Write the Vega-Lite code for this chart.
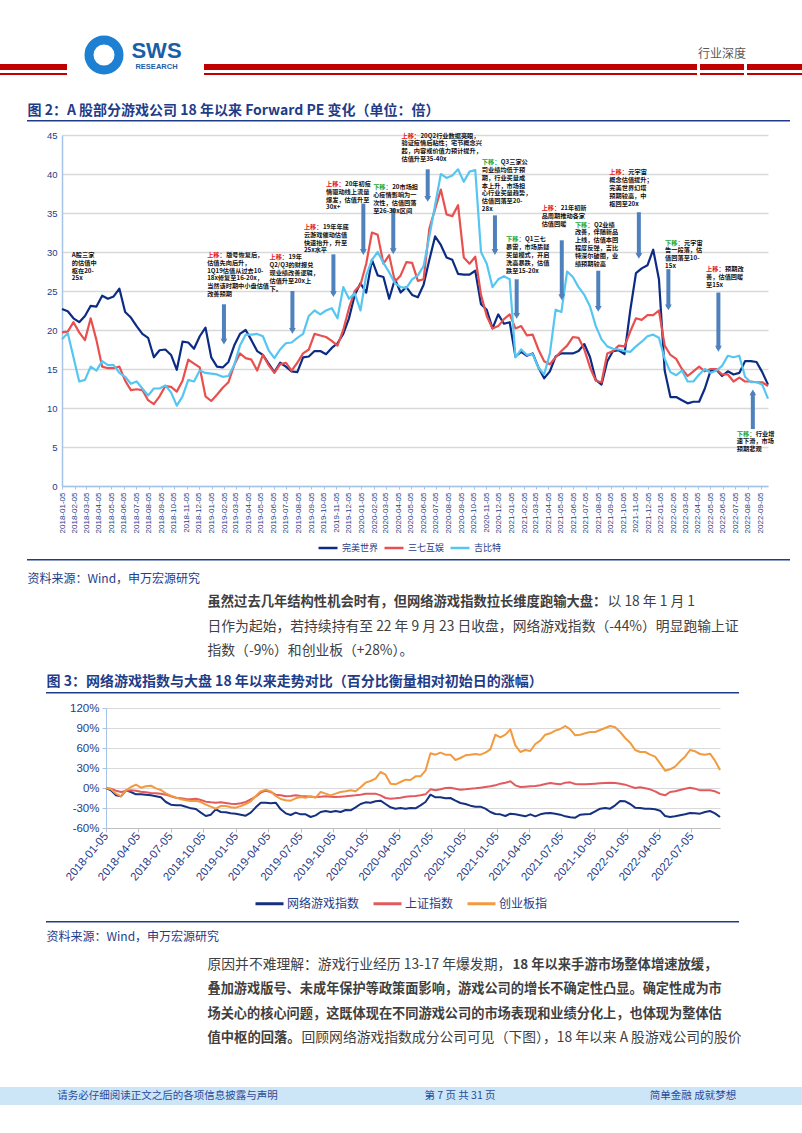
{
"$schema":"https://vega.github.io/schema/vega-lite/v6.json",
"background":"white",
"padding":0,
"spacing":0,
"config":{"view":{"stroke":null},"font":"Noto Sans CJK SC","concat":{"spacing":0}},
"resolve":{"scale":{"color":"independent","shape":"independent"},"legend":{"color":"independent","shape":"independent"}},
"datasets":{
"s":[
{"d":"2018-01-05","完美世界":22.7,"三七互娱":19.7,"吉比特":18.8,"网络游戏指数":0,"上证指数":0,"创业板指":0},
{"d":"2018-01-19","完美世界":22.4,"三七互娱":19.8,"吉比特":19.6,"网络游戏指数":-3.5,"上证指数":-1,"创业板指":-2},
{"d":"2018-02-02","完美世界":21.5,"三七互娱":21.0,"吉比特":16.5,"网络游戏指数":-11,"上证指数":-4,"创业板指":-8.5},
{"d":"2018-02-16","完美世界":21.0,"三七互娱":19.7,"吉比特":13.4,"网络游戏指数":-12.5,"上证指数":-6,"创业板指":-12.5},
{"d":"2018-03-02","完美世界":21.8,"三七互娱":18.7,"吉比特":13.6,"网络游戏指数":-3.5,"上证指数":-4.5,"创业板指":-3.5},
{"d":"2018-03-16","完美世界":23.1,"三七互娱":21.5,"吉比特":15.3,"网络游戏指数":-6,"上证指数":-3.5,"创业板指":1.5},
{"d":"2018-03-30","完美世界":23.0,"三七互娱":18.7,"吉比特":14.8,"网络游戏指数":-9.5,"上证指数":-4,"创业板指":5},
{"d":"2018-04-13","完美世界":24.4,"三七互娱":15.3,"吉比特":16.0,"网络游戏指数":-9.5,"上证指数":-5.5,"创业板指":0.5},
{"d":"2018-04-27","完美世界":24.0,"三七互娱":15.1,"吉比特":15.5,"网络游戏指数":-10,"上证指数":-6.5,"创业板指":2.5},
{"d":"2018-05-11","完美世界":24.3,"三七互娱":15.1,"吉比特":15.5,"网络游戏指数":-11,"上证指数":-7.5,"创业板指":3.5},
{"d":"2018-05-25","完美世界":25.3,"三七互娱":15.3,"吉比特":14.5,"网络游戏指数":-12.5,"上证指数":-8,"创业板指":-0.5},
{"d":"2018-06-08","完美世界":22.3,"三七互娱":13.5,"吉比特":14.0,"网络游戏指数":-14,"上证指数":-8.5,"创业板指":-3},
{"d":"2018-06-22","完美世界":21.6,"三七互娱":12.3,"吉比特":13.1,"网络游戏指数":-21,"上证指数":-10,"创业板指":-8},
{"d":"2018-07-06","完美世界":20.5,"三七互娱":12.4,"吉比特":13.4,"网络游戏指数":-25,"上证指数":-12.5,"创业板指":-11.5},
{"d":"2018-07-20","完美世界":19.5,"三七互娱":12.3,"吉比特":12.5,"网络游戏指数":-26,"上证指数":-14.5,"创业板指":-14},
{"d":"2018-08-03","完美世界":19.0,"三七互娱":11.0,"吉比特":11.6,"网络游戏指数":-26,"上证指数":-15.5,"创业板指":-17},
{"d":"2018-08-17","完美世界":16.5,"三七互娱":10.5,"吉比特":12.5,"网络游戏指数":-28,"上证指数":-16.5,"创业板指":-18.5},
{"d":"2018-08-31","完美世界":17.4,"三七互娱":11.5,"吉比特":12.5,"网络游戏指数":-30.5,"上证指数":-17,"创业板指":-19.5},
{"d":"2018-09-14","完美世界":17.5,"三七互娱":12.8,"吉比特":12.9,"网络游戏指数":-31.5,"上证指数":-16,"创业板指":-19},
{"d":"2018-09-28","完美世界":16.8,"三七互娱":12.7,"吉比特":12.0,"网络游戏指数":-37,"上证指数":-18,"创业板指":-21},
{"d":"2018-10-12","完美世界":14.9,"三七互娱":12.1,"吉比特":10.3,"网络游戏指数":-42,"上证指数":-20.5,"创业板指":-25},
{"d":"2018-10-26","完美世界":18.5,"三七互娱":13.5,"吉比特":11.5,"网络游戏指数":-40,"上证指数":-21.5,"创业板指":-28},
{"d":"2018-11-09","完美世界":18.4,"三七互娱":16.2,"吉比特":13.6,"网络游戏指数":-32,"上证指数":-22,"创业板指":-31},
{"d":"2018-11-23","完美世界":17.6,"三七互娱":15.7,"吉比特":13.4,"网络游戏指数":-36,"上证指数":-21.5,"创业板指":-27},
{"d":"2018-12-07","完美世界":19.2,"三七互娱":15.2,"吉比特":14.8,"网络游戏指数":-36.5,"上证指数":-22.5,"创业板指":-27},
{"d":"2018-12-21","完美世界":20.3,"三七互娱":11.5,"吉比特":14.5,"网络游戏指数":-38,"上证指数":-23.5,"创业板指":-29},
{"d":"2019-01-04","完美世界":16.5,"三七互娱":10.9,"吉比特":14.4,"网络游戏指数":-38.5,"上证指数":-24,"创业板指":-29.5},
{"d":"2019-01-18","完美世界":15.3,"三七互娱":11.7,"吉比特":14.3,"网络游戏指数":-40,"上证指数":-23,"创业板指":-27},
{"d":"2019-02-01","完美世界":15.2,"三七互娱":12.6,"吉比特":14.0,"网络游戏指数":-41.5,"上证指数":-21,"创业板指":-24},
{"d":"2019-02-15","完美世界":15.9,"三七互娱":13.3,"吉比特":14.1,"网络游戏指数":-37,"上证指数":-17,"创业板指":-20},
{"d":"2019-03-01","完美世界":18.0,"三七互娱":15.5,"吉比特":15.5,"网络游戏指数":-29,"上证指数":-13,"创业板指":-12},
{"d":"2019-03-15","完美世界":19.5,"三七互娱":17.0,"吉比特":18.0,"网络游戏指数":-22,"上证指数":-7,"创业板指":-5},
{"d":"2019-03-29","完美世界":20.0,"三七互娱":16.4,"吉比特":19.4,"网络游戏指数":-22,"上证指数":-4,"创业板指":-2.5},
{"d":"2019-04-12","完美世界":18.7,"三七互娱":16.2,"吉比特":19.4,"网络游戏指数":-23,"上证指数":-6,"创业板指":-5},
{"d":"2019-04-26","完美世界":17.3,"三七互娱":14.8,"吉比特":19.5,"网络游戏指数":-22,"上证指数":-10,"创业板指":-12},
{"d":"2019-05-10","完美世界":16.8,"三七互娱":16.8,"吉比特":19.2,"网络游戏指数":-32,"上证指数":-11,"创业板指":-16.5},
{"d":"2019-05-24","完美世界":15.7,"三七互娱":15.5,"吉比特":17.4,"网络游戏指数":-38,"上证指数":-12.5,"创业板指":-18.5},
{"d":"2019-06-07","完美世界":14.6,"三七互娱":14.5,"吉比特":16.4,"网络游戏指数":-40.5,"上证指数":-12,"创业板指":-19},
{"d":"2019-06-21","完美世界":15.8,"三七互娱":15.6,"吉比特":17.5,"网络游戏指数":-37,"上证指数":-11,"创业板指":-15.5},
{"d":"2019-07-05","完美世界":15.3,"三七互娱":15.8,"吉比特":18.3,"网络游戏指数":-39.5,"上证指数":-12,"创业板指":-13.5},
{"d":"2019-07-19","完美世界":14.7,"三七互娱":14.8,"吉比特":18.4,"网络游戏指数":-39.5,"上证指数":-12.5,"创业板指":-14.5},
{"d":"2019-08-02","完美世界":14.6,"三七互娱":15.8,"吉比特":19.0,"网络游戏指数":-43.5,"上证指数":-13,"创业板指":-12.5},
{"d":"2019-08-16","完美世界":16.5,"三七互娱":17.0,"吉比特":19.5,"网络游戏指数":-41,"上证指数":-13.5,"创业板指":-14.5},
{"d":"2019-08-30","完美世界":16.6,"三七互娱":17.5,"吉比特":21.8,"网络游戏指数":-36,"上证指数":-13,"创业板指":-6},
{"d":"2019-09-13","完美世界":17.3,"三七互娱":19.5,"吉比特":22.5,"网络游戏指数":-34.5,"上证指数":-12.5,"创业板指":-8.5},
{"d":"2019-09-27","完美世界":17.3,"三七互娱":19.3,"吉比特":22.0,"网络游戏指数":-36,"上证指数":-13,"创业板指":-11},
{"d":"2019-10-11","完美世界":16.9,"三七互娱":19.1,"吉比特":22.5,"网络游戏指数":-34.5,"上证指数":-13.5,"创业板指":-8.5},
{"d":"2019-10-25","完美世界":17.7,"三七互娱":18.6,"吉比特":22.8,"网络游戏指数":-36,"上证指数":-13,"创业板指":-6},
{"d":"2019-11-08","完美世界":18.3,"三七互娱":18.0,"吉比特":21.5,"网络游戏指数":-33,"上证指数":-12.5,"创业板指":-5},
{"d":"2019-11-22","完美世界":19.5,"三七互娱":20.0,"吉比特":25.5,"网络游戏指数":-33.5,"上证指数":-11.5,"创业板指":-3.5},
{"d":"2019-12-06","完美世界":21.5,"三七互娱":22.8,"吉比特":24.0,"网络游戏指数":-29,"上证指数":-11,"创业板指":-5},
{"d":"2019-12-20","完美世界":24.5,"三七互娱":25.0,"吉比特":24.7,"网络游戏指数":-24,"上证指数":-10,"创业板指":1},
{"d":"2020-01-03","完美世界":26.0,"三七互娱":25.8,"吉比特":22.5,"网络游戏指数":-21.5,"上证指数":-8.5,"创业板指":8},
{"d":"2020-01-17","完美世界":24.8,"三七互娱":28.5,"吉比特":27.0,"网络游戏指数":-22,"上证指数":-8.5,"创业板指":10.5},
{"d":"2020-01-31","完美世界":29.0,"三七互娱":32.5,"吉比特":29.0,"网络游戏指数":-20,"上证指数":-8.5,"创业板指":14},
{"d":"2020-02-14","完美世界":27.0,"三七互娱":32.2,"吉比特":30.0,"网络游戏指数":-19,"上证指数":-11,"创业板指":24},
{"d":"2020-02-28","完美世界":26.8,"三七互娱":28.5,"吉比特":28.6,"网络游戏指数":-24,"上证指数":-15,"创业板指":20},
{"d":"2020-03-13","完美世界":24.0,"三七互娱":29.6,"吉比特":27.4,"网络游戏指数":-29,"上证指数":-16,"创业板指":6.5},
{"d":"2020-03-27","完美世界":26.5,"三七互娱":26.2,"吉比特":26.0,"网络游戏指数":-31,"上证指数":-15.5,"创业板指":5.5},
{"d":"2020-04-10","完美世界":24.8,"三七互娱":27.0,"吉比特":25.5,"网络游戏指数":-30,"上证指数":-14.5,"创业板指":9},
{"d":"2020-04-24","完美世界":25.5,"三七互娱":28.7,"吉比特":25.4,"网络游戏指数":-31,"上证指数":-13,"创业板指":12.5},
{"d":"2020-05-08","完美世界":24.5,"三七互娱":28.6,"吉比特":26.5,"网络游戏指数":-30,"上证指数":-12.5,"创业板指":12},
{"d":"2020-05-22","完美世界":24.2,"三七互娱":26.3,"吉比特":27.0,"网络游戏指数":-30.5,"上证指数":-12,"创业板指":17.5},
{"d":"2020-06-05","完美世界":25.8,"三七互娱":26.5,"吉比特":28.2,"网络游戏指数":-26,"上证指数":-11,"创业板指":17.5},
{"d":"2020-06-19","完美世界":29.0,"三七互娱":33.0,"吉比特":32.0,"网络游戏指数":-21,"上证指数":-9.5,"创业板指":26},
{"d":"2020-07-03","完美世界":32.0,"三七互娱":35.5,"吉比特":36.0,"网络游戏指数":-10,"上证指数":-2,"创业板指":52},
{"d":"2020-07-17","完美世界":30.9,"三七互娱":38.0,"吉比特":40.0,"网络游戏指数":-14,"上证指数":-3.5,"创业板指":50},
{"d":"2020-07-31","完美世界":29.3,"三七互娱":34.8,"吉比特":39.5,"网络游戏指数":-14,"上证指数":-2,"创业板指":53},
{"d":"2020-08-14","完美世界":29.0,"三七互娱":34.6,"吉比特":39.8,"网络游戏指数":-15.5,"上证指数":0,"创业板指":50},
{"d":"2020-08-28","完美世界":27.2,"三七互娱":36.0,"吉比特":40.6,"网络游戏指数":-15,"上证指数":0.5,"创业板指":50},
{"d":"2020-09-11","完美世界":27.1,"三七互娱":29.3,"吉比特":39.0,"网络游戏指数":-19,"上证指数":-1,"创业板指":42},
{"d":"2020-09-25","完美世界":27.1,"三七互娱":28.5,"吉比特":40.3,"网络游戏指数":-22.5,"上证指数":-2.5,"创业板指":45},
{"d":"2020-10-09","完美世界":27.6,"三七互娱":29.4,"吉比特":40.5,"网络游戏指数":-24,"上证指数":-2,"创业板指":49},
{"d":"2020-10-23","完美世界":23.3,"三七互娱":24.5,"吉比特":30.0,"网络游戏指数":-26.5,"上证指数":-1,"创业板指":50},
{"d":"2020-11-06","完美世界":22.6,"三七互娱":21.8,"吉比特":28.5,"网络游戏指数":-28,"上证指数":-0.5,"创业板指":51},
{"d":"2020-11-20","完美世界":20.2,"三七互娱":20.2,"吉比特":25.5,"网络游戏指数":-28,"上证指数":0.5,"创业板指":50},
{"d":"2020-12-04","完美世界":22.0,"三七互娱":20.5,"吉比特":26.5,"网络游戏指数":-31,"上证指数":1.5,"创业板指":53},
{"d":"2020-12-18","完美世界":20.8,"三七互娱":21.4,"吉比特":26.9,"网络游戏指数":-36,"上证指数":2.5,"创业板指":58},
{"d":"2021-01-01","完美世界":21.0,"三七互娱":22.0,"吉比特":26.5,"网络游戏指数":-39,"上证指数":4,"创业板指":80},
{"d":"2021-01-15","完美世界":16.6,"三七互娱":20.2,"吉比特":16.5,"网络游戏指数":-39.5,"上证指数":6.5,"创业板指":76},
{"d":"2021-01-29","完美世界":17.2,"三七互娱":20.5,"吉比特":17.5,"网络游戏指数":-42,"上证指数":8,"创业板指":80},
{"d":"2021-02-12","完美世界":16.7,"三七互娱":19.3,"吉比特":16.8,"网络游戏指数":-38.5,"上证指数":10,"创业板指":88},
{"d":"2021-02-26","完美世界":17.0,"三七互娱":19.4,"吉比特":16.9,"网络游戏指数":-39.5,"上证指数":4,"创业板指":64},
{"d":"2021-03-12","完美世界":15.2,"三七互娱":17.5,"吉比特":15.2,"网络游戏指数":-41,"上证指数":1.5,"创业板指":54},
{"d":"2021-03-26","完美世界":13.8,"三七互娱":16.0,"吉比特":14.3,"网络游戏指数":-42.5,"上证指数":2,"创业板指":57},
{"d":"2021-04-09","完美世界":14.7,"三七互娱":15.6,"吉比特":17.0,"网络游戏指数":-39.5,"上证指数":2.5,"创业板指":55.5},
{"d":"2021-04-23","完美世界":16.6,"三七互娱":16.5,"吉比特":22.6,"网络游戏指数":-42.5,"上证指数":3,"创业板指":66},
{"d":"2021-05-07","完美世界":17.0,"三七互娱":17.3,"吉比特":22.3,"网络游戏指数":-39.5,"上证指数":4,"创业板指":71},
{"d":"2021-05-21","完美世界":17.0,"三七互娱":18.0,"吉比特":27.5,"网络游戏指数":-38,"上证指数":6,"创业板指":80},
{"d":"2021-06-04","完美世界":17.0,"三七互娱":19.1,"吉比特":26.8,"网络游戏指数":-37.5,"上证指数":7.5,"创业板指":82},
{"d":"2021-06-18","完美世界":17.3,"三七互娱":19.0,"吉比特":25.5,"网络游戏指数":-38.5,"上证指数":6.5,"创业板指":86},
{"d":"2021-07-02","完美世界":18.2,"三七互娱":17.5,"吉比特":24.5,"网络游戏指数":-40,"上证指数":5.5,"创业板指":88.5},
{"d":"2021-07-16","完美世界":16.5,"三七互娱":15.2,"吉比特":23.0,"网络游戏指数":-42.5,"上证指数":8,"创业板指":93},
{"d":"2021-07-30","完美世界":13.6,"三七互娱":13.5,"吉比特":20.5,"网络游戏指数":-44,"上证指数":8.5,"创业板指":88},
{"d":"2021-08-13","完美世界":13.0,"三七互娱":13.3,"吉比特":18.8,"网络游戏指数":-44.5,"上证指数":6,"创业板指":79},
{"d":"2021-08-27","完美世界":16.0,"三七互娱":17.0,"吉比特":17.9,"网络游戏指数":-40,"上证指数":5.5,"创业板指":80},
{"d":"2021-09-10","完美世界":17.3,"三七互娱":17.3,"吉比特":17.6,"网络游戏指数":-39.5,"上证指数":5.5,"创业板指":82},
{"d":"2021-09-24","完美世界":17.4,"三七互娱":18.0,"吉比特":17.5,"网络游戏指数":-39,"上证指数":6,"创业板指":84},
{"d":"2021-10-08","完美世界":16.9,"三七互娱":17.9,"吉比特":17.3,"网络游戏指数":-35,"上证指数":6.5,"创业板指":84},
{"d":"2021-10-22","完美世界":22.5,"三七互娱":19.8,"吉比特":17.2,"网络游戏指数":-31,"上证指数":7,"创业板指":87},
{"d":"2021-11-05","完美世界":27.3,"三七互娱":21.5,"吉比特":17.9,"网络游戏指数":-30,"上证指数":7.5,"创业板指":90},
{"d":"2021-11-19","完美世界":27.9,"三七互娱":21.3,"吉比特":18.5,"网络游戏指数":-31,"上证指数":8,"创业板指":93},
{"d":"2021-12-03","完美世界":28.3,"三七互娱":21.9,"吉比特":19.2,"网络游戏指数":-26,"上证指数":7.5,"创业板指":91},
{"d":"2021-12-17","完美世界":30.3,"三七互娱":21.9,"吉比特":19.4,"网络游戏指数":-19.5,"上证指数":6.5,"创业板指":84},
{"d":"2021-12-31","完美世界":26.5,"三七互娱":22.5,"吉比特":19.0,"网络游戏指数":-20,"上证指数":5,"创业板指":75},
{"d":"2022-01-14","完美世界":14.8,"三七互娱":18.0,"吉比特":16.3,"网络游戏指数":-24,"上证指数":2.5,"创业板指":68},
{"d":"2022-01-28","完美世界":11.4,"三七互娱":16.8,"吉比特":14.6,"网络游戏指数":-29.5,"上证指数":0,"创业板指":57},
{"d":"2022-02-11","完美世界":11.4,"三七互娱":16.3,"吉比特":14.2,"网络游戏指数":-30,"上证指数":1,"创业板指":54},
{"d":"2022-02-25","完美世界":11.0,"三七互娱":15.0,"吉比特":14.8,"网络游戏指数":-31,"上证指数":-0.5,"创业板指":54},
{"d":"2022-03-11","完美世界":10.6,"三七互娱":14.1,"吉比特":13.4,"网络游戏指数":-31,"上证指数":-2,"创业板指":50},
{"d":"2022-03-25","完美世界":10.8,"三七互娱":14.7,"吉比特":13.4,"网络游戏指数":-32,"上证指数":-5,"创业板指":47},
{"d":"2022-04-08","完美世界":10.8,"三七互娱":15.3,"吉比特":14.3,"网络游戏指数":-34,"上证指数":-9,"创业板指":37},
{"d":"2022-04-22","完美世界":12.5,"三七互娱":14.7,"吉比特":15.0,"网络游戏指数":-42,"上证指数":-11,"创业板指":26},
{"d":"2022-05-06","完美世界":14.8,"三七互娱":15.0,"吉比特":14.5,"网络游戏指数":-43.5,"上证指数":-6,"创业板指":28},
{"d":"2022-05-20","完美世界":14.9,"三七互娱":15.0,"吉比特":14.8,"网络游戏指数":-42.5,"上证指数":-5,"创业板指":32},
{"d":"2022-06-03","完美世界":14.1,"三七互娱":14.3,"吉比特":15.4,"网络游戏指数":-41,"上证指数":-3,"创业板指":40},
{"d":"2022-06-17","完美世界":14.7,"三七互娱":14.3,"吉比特":16.7,"网络游戏指数":-39.5,"上证指数":-1,"创业板指":47},
{"d":"2022-07-01","完美世界":14.3,"三七互娱":13.4,"吉比特":16.5,"网络游戏指数":-37.5,"上证指数":0.5,"创业板指":57},
{"d":"2022-07-15","完美世界":14.5,"三七互娱":13.9,"吉比特":16.7,"网络游戏指数":-38,"上证指数":-1,"创业板指":55},
{"d":"2022-07-29","完美世界":16.0,"三七互娱":13.4,"吉比特":14.0,"网络游戏指数":-38.5,"上证指数":-3.5,"创业板指":51},
{"d":"2022-08-12","完美世界":16.0,"三七互娱":13.4,"吉比特":13.3,"网络游戏指数":-36,"上证指数":-3.5,"创业板指":50},
{"d":"2022-08-26","完美世界":15.9,"三七互娱":13.3,"吉比特":13.3,"网络游戏指数":-34.5,"上证指数":-3.5,"创业板指":51.5},
{"d":"2022-09-09","完美世界":14.6,"三七互娱":13.3,"吉比特":13.0,"网络游戏指数":-38,"上证指数":-5,"创业板指":41},
{"d":"2022-09-23","完美世界":13.0,"三七互娱":12.8,"吉比特":11.2,"网络游戏指数":-43.5,"上证指数":-8.5,"创业板指":27}
],
"notes":[
{"d":"2018-01-29","v":31.0,"p":"","a":"","b":"A股三家\n的估值中\n枢在20-\n25x"},
{"d":"2018-12-25","v":30.0,"p":"上移：","a":"版号恢复后，","b":"估值先向后升，\n1Q19估值从过去10-\n18x修复至16-20x，\n当然该时期中小盘估值\n改善预期"},
{"d":"2019-05-26","v":29.7,"p":"上移：","a":"19年","b":"Q2/Q3的财报兑\n现业绩改善逻辑，\n估值升至20x上\n下。"},
{"d":"2019-08-18","v":33.6,"p":"上移：","a":"19年年底","b":"云游戏催动估值\n快速抬升，升至\n25x水平"},
{"d":"2019-10-11","v":39.1,"p":"上移：","a":"20年初疫","b":"情驱动线上流量\n爆发，估值升至\n30x+"},
{"d":"2020-02-03","v":38.7,"p":"下移：","a":"20市场担","b":"心疫情影响为一\n次性，估值回落\n至26-30x区间"},
{"d":"2020-04-12","v":45.3,"p":"上移：","a":"20Q2行业数据亮眼，","b":"验证疫情后粘性；宅节概念兴\n起，内容或价值力预计提升，\n估值升至35-40x"},
{"d":"2020-10-25","v":41.9,"p":"下移：","a":"Q3三家公","b":"司业绩均低于预\n期，行业买量成\n本上升，市场担\n心行业买量趋势，\n估值回落至20-\n28x"},
{"d":"2020-12-23","v":32.0,"p":"下移：","a":"Q1三七","b":"暴雷，市场质疑\n买量模式，开启\n洗高暴跌，估值\n跌至15-20x"},
{"d":"2021-03-20","v":36.0,"p":"上移：","a":"21年初新","b":"品周期推动各家\n估值回暖"},
{"d":"2021-06-09","v":33.9,"p":"下移：","a":"Q2业绩","b":"改善，伴随新品\n上线，估值本回\n程度反弹，吉比\n特深尔破圈，业\n绩预期较高"},
{"d":"2021-09-01","v":40.6,"p":"上移：","a":"元宇宙","b":"概念估值提升；\n完美世界幻塔\n预期较高，中\n枢回至20x"},
{"d":"2022-01-15","v":31.6,"p":"下移：","a":"元宇宙","b":"告一段落，估\n值回落至10-\n15x"},
{"d":"2022-04-25","v":28.2,"p":"上移：","a":"预期改","b":"善，估值回暖\n至15x"},
{"d":"2022-07-09","v":7.1,"p":"下移：","a":"行业增","b":"速下滑，市场\n预期悲观"}
],
"arrows":[
{"d":"2019-02-04","v":18.5,"v2":23.3,"dir":"down"},
{"d":"2019-07-21","v":19.9,"v2":25.0,"dir":"down"},
{"d":"2019-10-29","v":24.6,"v2":29.7,"dir":"down"},
{"d":"2020-01-10","v":30.0,"v2":36.2,"dir":"down"},
{"d":"2020-03-23","v":30.1,"v2":35.6,"dir":"down"},
{"d":"2020-06-15","v":36.8,"v2":40.6,"dir":"down"},
{"d":"2020-11-26","v":30.0,"v2":34.7,"dir":"down"},
{"d":"2021-01-18","v":21.8,"v2":26.5,"dir":"down"},
{"d":"2021-05-08","v":24.2,"v2":31.5,"dir":"down"},
{"d":"2021-08-05","v":22.7,"v2":27.6,"dir":"down"},
{"d":"2021-11-12","v":29.5,"v2":35.1,"dir":"down"},
{"d":"2022-01-23","v":22.9,"v2":27.8,"dir":"down"},
{"d":"2022-05-25","v":17.6,"v2":24.8,"dir":"down"},
{"d":"2022-08-17","v":12.0,"v2":7.3,"dir":"up"}
]
},
"vconcat":[
{"width":1,"height":35,"data":{"values":[]},"mark":"rect"},
{"hconcat":[
 {"width":67,"height":35,"view":{"fill":"#ffffff","stroke":null},"data":{"values":[{}]},"mark":{"type":"rect","fill":{"gradient":"linear","x1":0,"y1":0,"x2":0,"y2":1,"stops":[{"offset":0,"color":"#ffffff"},{"offset":0.7,"color":"#ffffff"},{"offset":0.7,"color":"#c00000"},{"offset":0.871,"color":"#c00000"},{"offset":0.871,"color":"#ffffff"},{"offset":0.937,"color":"#ffffff"},{"offset":0.937,"color":"#c00000"},{"offset":1,"color":"#c00000"}]}}},
 {"width":17,"height":35,"view":{"fill":"#ffffff","stroke":null},"data":{"values":[]},"mark":"rect"},
 {"width":30,"height":30,"view":{"fill":"#ffffff","stroke":"#1d80d2","strokeWidth":9,"cornerRadius":15},"data":{"values":[]},"mark":"rect"},
 {"width":3,"height":35,"view":{"fill":"#ffffff","stroke":null},"data":{"values":[]},"mark":"rect"},
 {"width":59,"height":22,"view":{"fill":"#ffffff","stroke":null},
  "title":{"text":"RESEARCH","orient":"bottom","anchor":"middle","offset":0.5,"fontSize":7.5,"fontWeight":"bold","font":"Liberation Sans","color":"#1b5ea8"},
  "data":{"values":[{"t":"SWS"}]},"mark":{"type":"text","align":"center","baseline":"middle","fontSize":22,"fontWeight":"bold","font":"Liberation Sans","color":"#1b5ea8"},"encoding":{"text":{"field":"t"}}},
 {"width":18,"height":35,"view":{"fill":"#ffffff","stroke":null},"data":{"values":[]},"mark":"rect"},
 {"width":493,"height":35,"view":{"fill":"#ffffff","stroke":null},"data":{"values":[{}]},"mark":{"type":"rect","fill":{"gradient":"linear","x1":0,"y1":0,"x2":0,"y2":1,"stops":[{"offset":0,"color":"#ffffff"},{"offset":0.7,"color":"#ffffff"},{"offset":0.7,"color":"#c00000"},{"offset":0.871,"color":"#c00000"},{"offset":0.871,"color":"#ffffff"},{"offset":0.937,"color":"#ffffff"},{"offset":0.937,"color":"#c00000"},{"offset":1,"color":"#c00000"}]}}},
 {"width":44,"height":35,"view":{"fill":"#ffffff","stroke":null},"layer":[
  {"data":{"values":[{}]},"mark":{"type":"rect","fill":{"gradient":"linear","x1":0,"y1":0,"x2":0,"y2":1,"stops":[{"offset":0,"color":"#ffffff"},{"offset":0.7,"color":"#ffffff"},{"offset":0.7,"color":"#c00000"},{"offset":0.871,"color":"#c00000"},{"offset":0.871,"color":"#ffffff"},{"offset":0.937,"color":"#ffffff"},{"offset":0.937,"color":"#c00000"},{"offset":1,"color":"#c00000"}]}}},
  {"data":{"values":[{"t":"行业深度"}]},"mark":{"type":"text","align":"center","baseline":"alphabetic","fontSize":12,"color":"#595959"},"encoding":{"text":{"field":"t"}}}
 ]},
 {"width":62,"height":35,"view":{"fill":"#ffffff","stroke":null},"data":{"values":[{}]},"mark":{"type":"rect","fill":{"gradient":"linear","x1":0,"y1":0,"x2":0,"y2":1,"stops":[{"offset":0,"color":"#ffffff"},{"offset":0.7,"color":"#ffffff"},{"offset":0.7,"color":"#c00000"},{"offset":0.871,"color":"#c00000"},{"offset":0.871,"color":"#ffffff"},{"offset":0.937,"color":"#ffffff"},{"offset":0.937,"color":"#c00000"},{"offset":1,"color":"#c00000"}]}}}
]},
{"width":1,"height":27.5,"data":{"values":[]},"mark":"rect"},
{"hconcat":[
 {"width":27,"height":16,"data":{"values":[]},"mark":"rect"},
 {"width":1,"height":16,"data":{"values":[{"t":"图 2：A 股部分游戏公司 18 年以来 Forward PE 变化（单位：倍）"}]},"mark":{"type":"text","align":"left","baseline":"middle","fontSize":14,"fontWeight":"bold","color":"#1f3c88"},"encoding":{"text":{"field":"t"}}}
]},
{"width":1,"height":0.25,"data":{"values":[]},"mark":"rect"},
{"hconcat":[
 {"width":27,"height":1.5,"data":{"values":[]},"mark":"rect"},
 {"width":763,"height":1.5,"data":{"values":[]},"mark":"rect","view":{"fill":"#1f3c88","stroke":null}}
]},
{"width":1,"height":7.25,"data":{"values":[]},"mark":"rect"},
{"hconcat":[
 {"width":46,"height":1,"data":{"values":[]},"mark":"rect"},
 {"width":706,"height":351,
  "encoding":{
   "x":{"field":"d","type":"temporal","title":null,
      "scale":{"type":"utc","domain":[{"year":2018,"month":1,"date":5,"utc":true},{"year":2022,"month":9,"date":23,"utc":true}]},
      "axis":{"values":[
{"year":2018,"month":1,"date":5,"utc":true},{"year":2018,"month":2,"date":5,"utc":true},{"year":2018,"month":3,"date":5,"utc":true},{"year":2018,"month":4,"date":5,"utc":true},{"year":2018,"month":5,"date":5,"utc":true},{"year":2018,"month":6,"date":5,"utc":true},{"year":2018,"month":7,"date":5,"utc":true},{"year":2018,"month":8,"date":5,"utc":true},{"year":2018,"month":9,"date":5,"utc":true},{"year":2018,"month":10,"date":5,"utc":true},{"year":2018,"month":11,"date":5,"utc":true},{"year":2018,"month":12,"date":5,"utc":true},
{"year":2019,"month":1,"date":5,"utc":true},{"year":2019,"month":2,"date":5,"utc":true},{"year":2019,"month":3,"date":5,"utc":true},{"year":2019,"month":4,"date":5,"utc":true},{"year":2019,"month":5,"date":5,"utc":true},{"year":2019,"month":6,"date":5,"utc":true},{"year":2019,"month":7,"date":5,"utc":true},{"year":2019,"month":8,"date":5,"utc":true},{"year":2019,"month":9,"date":5,"utc":true},{"year":2019,"month":10,"date":5,"utc":true},{"year":2019,"month":11,"date":5,"utc":true},{"year":2019,"month":12,"date":5,"utc":true},
{"year":2020,"month":1,"date":5,"utc":true},{"year":2020,"month":2,"date":5,"utc":true},{"year":2020,"month":3,"date":5,"utc":true},{"year":2020,"month":4,"date":5,"utc":true},{"year":2020,"month":5,"date":5,"utc":true},{"year":2020,"month":6,"date":5,"utc":true},{"year":2020,"month":7,"date":5,"utc":true},{"year":2020,"month":8,"date":5,"utc":true},{"year":2020,"month":9,"date":5,"utc":true},{"year":2020,"month":10,"date":5,"utc":true},{"year":2020,"month":11,"date":5,"utc":true},{"year":2020,"month":12,"date":5,"utc":true},
{"year":2021,"month":1,"date":5,"utc":true},{"year":2021,"month":2,"date":5,"utc":true},{"year":2021,"month":3,"date":5,"utc":true},{"year":2021,"month":4,"date":5,"utc":true},{"year":2021,"month":5,"date":5,"utc":true},{"year":2021,"month":6,"date":5,"utc":true},{"year":2021,"month":7,"date":5,"utc":true},{"year":2021,"month":8,"date":5,"utc":true},{"year":2021,"month":9,"date":5,"utc":true},{"year":2021,"month":10,"date":5,"utc":true},{"year":2021,"month":11,"date":5,"utc":true},{"year":2021,"month":12,"date":5,"utc":true},
{"year":2022,"month":1,"date":5,"utc":true},{"year":2022,"month":2,"date":5,"utc":true},{"year":2022,"month":3,"date":5,"utc":true},{"year":2022,"month":4,"date":5,"utc":true},{"year":2022,"month":5,"date":5,"utc":true},{"year":2022,"month":6,"date":5,"utc":true},{"year":2022,"month":7,"date":5,"utc":true},{"year":2022,"month":8,"date":5,"utc":true},{"year":2022,"month":9,"date":5,"utc":true}
      ],
      "format":"%Y-%m-%d","labelAngle":-90,"labelFontSize":8,"labelColor":"#1f3c88","labelFont":"Liberation Sans","labelPadding":3,"ticks":true,"tickSize":3,"tickColor":"#a6c4e8","domainColor":"#a6c4e8","domainWidth":1.5,"grid":false,"labelOverlap":false,"labelFlush":false,"labelBound":false}},
   "y":{"field":"v","type":"quantitative","title":null,"scale":{"domain":[0,45]},
      "axis":{"values":[0,5,10,15,20,25,30,35,40,45],"labelFontSize":9.5,"labelColor":"#1f3c88","labelFont":"Liberation Sans","labelPadding":5,"ticks":false,"domainColor":"#a6c4e8","domainWidth":1.5,"gridColor":"#d9d9d9","gridWidth":1.5,"labelOverlap":false,"labelBound":false,"labelFlush":false}}
  },
  "layer":[
   {"data":{"name":"s"},
    "transform":[{"fold":["完美世界","三七互娱","吉比特"],"as":["公司","v"]}],
    "mark":{"type":"line","strokeWidth":2.2,"strokeJoin":"round"},
    "encoding":{
     "color":{"field":"公司","type":"nominal","scale":{"domain":["完美世界","三七互娱","吉比特"],"range":["#0c2c84","#e8504f","#55c6f2"]},
      "legend":{"orient":"none","legendX":317,"legendY":402,"direction":"horizontal","title":null,"symbolType":"stroke","symbolStrokeWidth":2.5,"symbolSize":360,"labelFontSize":9,"labelColor":"#1f3c88","labelOffset":3,"columnPadding":0}}
    }},
   {"data":{"name":"arrows"},
    "mark":{"type":"rule","strokeWidth":4,"color":"#4f81bd"},
    "encoding":{"y2":{"field":"v2"}}},
   {"data":{"name":"arrows"},
    "mark":{"type":"point","filled":true,"size":45,"color":"#4f81bd","opacity":1},
    "encoding":{"shape":{"field":"dir","type":"nominal","scale":{"domain":["down","up"],"range":["triangle-down","triangle-up"]},"legend":null}}},
   {"data":{"name":"notes"},
    "mark":{"type":"text","align":"left","baseline":"top","fontSize":6.2,"fontWeight":"bold"},
    "encoding":{"text":{"field":"p"},
     "color":{"condition":{"test":"datum.p === '上移：'","value":"#e3201b"},"value":"#21a838"}}},
   {"data":{"name":"notes"},
    "mark":{"type":"text","align":"left","baseline":"top","fontSize":6.2,"fontWeight":"bold","color":"#111111","dx":19},
    "encoding":{"text":{"field":"a"}}},
   {"data":{"name":"notes"},
    "mark":{"type":"text","align":"left","baseline":"top","fontSize":6.2,"lineHeight":7.8,"lineBreak":"\n","fontWeight":"bold","color":"#111111","dy":7.8},
    "encoding":{"text":{"field":"b"}}}
  ]}
]},
{"width":1,"height":5.7,"data":{"values":[]},"mark":"rect"},
{"hconcat":[
 {"width":27,"height":1.5,"data":{"values":[]},"mark":"rect"},
 {"width":763,"height":1.5,"data":{"values":[]},"mark":"rect","view":{"fill":"#1f3c88","stroke":null}}
]},
{"width":1,"height":9.5,"data":{"values":[]},"mark":"rect"},
{"hconcat":[
 {"width":27,"height":16,"data":{"values":[]},"mark":"rect"},
 {"width":1,"height":16,"data":{"values":[{"t":"资料来源：Wind，申万宏源研究"}]},"mark":{"type":"text","align":"left","baseline":"middle","fontSize":12,"color":"#1f3c88"},"encoding":{"text":{"field":"t"}}}
]},
{"width":1,"height":6.3,"data":{"values":[]},"mark":"rect"},
{"hconcat":[
 {"width":207,"height":16,"data":{"values":[]},"mark":"rect"},
 {"width":1,"height":16,"data":{"values":[{"t":"　虽然过去几年结构性机会时有，但网络游戏指数拉长维度跑输大盘："}]},"mark":{"type":"text","align":"left","baseline":"middle","fontSize":13.3,"fontWeight":"bold","color":"#404040"},"encoding":{"text":{"field":"t"}}},
 {"width":1,"height":16,"data":{"values":[{"t":"以 18 年 1 月 1"}]},"mark":{"type":"text","align":"left","baseline":"middle","fontSize":13.8,"color":"#404040"},"encoding":{"text":{"field":"t"}}}
]},
{"width":1,"height":8.5,"data":{"values":[]},"mark":"rect"},
{"hconcat":[
 {"width":207,"height":16,"data":{"values":[]},"mark":"rect"},
 {"width":1,"height":16,"data":{"values":[{"t":"日作为起始，若持续持有至 22 年 9 月 23 日收盘，网络游戏指数（-44%）明显跑输上证"}]},"mark":{"type":"text","align":"left","baseline":"middle","fontSize":13.8,"color":"#404040"},"encoding":{"text":{"field":"t"}}}
]},
{"width":1,"height":7.5,"data":{"values":[]},"mark":"rect"},
{"hconcat":[
 {"width":207,"height":16,"data":{"values":[]},"mark":"rect"},
 {"width":1,"height":16,"data":{"values":[{"t":"指数（-9%）和创业板（+28%）。"}]},"mark":{"type":"text","align":"left","baseline":"middle","fontSize":13.8,"color":"#404040"},"encoding":{"text":{"field":"t"}}}
]},
{"width":1,"height":15,"data":{"values":[]},"mark":"rect"},
{"hconcat":[
 {"width":46,"height":16,"data":{"values":[]},"mark":"rect"},
 {"width":1,"height":16,"data":{"values":[{"t":"图 3：网络游戏指数与大盘 18 年以来走势对比（百分比衡量相对初始日的涨幅）"}]},"mark":{"type":"text","align":"left","baseline":"middle","fontSize":14,"fontWeight":"bold","color":"#1f3c88"},"encoding":{"text":{"field":"t"}}}
]},
{"width":1,"height":1.5,"data":{"values":[]},"mark":"rect"},
{"hconcat":[
 {"width":46,"height":1.5,"data":{"values":[]},"mark":"rect"},
 {"width":693,"height":1.5,"data":{"values":[]},"mark":"rect","view":{"fill":"#1f3c88","stroke":null}}
]},
{"width":1,"height":7.1,"data":{"values":[]},"mark":"rect"},
{"hconcat":[
 {"width":63,"height":1,"data":{"values":[]},"mark":"rect"},
 {"width":614,"height":120,
  "data":{"name":"s"},
  "transform":[{"fold":["网络游戏指数","上证指数","创业板指"],"as":["指数","涨幅"]}],
  "mark":{"type":"line","strokeWidth":2,"strokeJoin":"round"},
  "encoding":{
   "x":{"field":"d","type":"temporal","title":null,
    "scale":{"type":"utc","domain":[{"year":2018,"month":1,"date":5,"utc":true},{"year":2022,"month":9,"date":23,"utc":true}]},
    "axis":{"values":[
{"year":2018,"month":1,"date":5,"utc":true},{"year":2018,"month":4,"date":5,"utc":true},{"year":2018,"month":7,"date":5,"utc":true},{"year":2018,"month":10,"date":5,"utc":true},
{"year":2019,"month":1,"date":5,"utc":true},{"year":2019,"month":4,"date":5,"utc":true},{"year":2019,"month":7,"date":5,"utc":true},{"year":2019,"month":10,"date":5,"utc":true},
{"year":2020,"month":1,"date":5,"utc":true},{"year":2020,"month":4,"date":5,"utc":true},{"year":2020,"month":7,"date":5,"utc":true},{"year":2020,"month":10,"date":5,"utc":true},
{"year":2021,"month":1,"date":5,"utc":true},{"year":2021,"month":4,"date":5,"utc":true},{"year":2021,"month":7,"date":5,"utc":true},{"year":2021,"month":10,"date":5,"utc":true},
{"year":2022,"month":1,"date":5,"utc":true},{"year":2022,"month":4,"date":5,"utc":true},{"year":2022,"month":7,"date":5,"utc":true}
    ],
    "format":"%Y-%m-%d","labelAngle":-50,"labelFontSize":11.5,"labelColor":"#1f3c88","labelFont":"Liberation Sans","labelPadding":2,"ticks":true,"tickSize":4,"tickColor":"#bfbfbf","domainColor":"#bfbfbf","grid":false,"labelOverlap":false,"labelFlush":false,"labelBound":false}},
   "y":{"field":"涨幅","type":"quantitative","title":null,"scale":{"domain":[-60,120]},
    "axis":{"values":[-60,-30,0,30,60,90,120],"labelExpr":"datum.value + '%'","labelFontSize":11.5,"labelColor":"#1f3c88","labelFont":"Liberation Sans","labelPadding":3,"ticks":true,"tickSize":4,"tickColor":"#a6c4e8","domainColor":"#a6c4e8","gridColor":"#d9d9d9","labelOverlap":false}},
   "color":{"field":"指数","type":"nominal","scale":{"domain":["网络游戏指数","上证指数","创业板指"],"range":["#14307f","#e25a5e","#f29a3f"]},
    "legend":{"orient":"none","legendX":254,"legendY":180,"direction":"horizontal","title":null,"symbolType":"stroke","symbolStrokeWidth":3,"symbolSize":784,"labelFontSize":12,"labelColor":"#1f3c88","labelOffset":2,"columnPadding":7}}
  }}
]},
{"width":1,"height":10.8,"data":{"values":[]},"mark":"rect"},
{"hconcat":[
 {"width":46,"height":1.5,"data":{"values":[]},"mark":"rect"},
 {"width":693,"height":1.5,"data":{"values":[]},"mark":"rect","view":{"fill":"#1f3c88","stroke":null}}
]},
{"width":1,"height":6,"data":{"values":[]},"mark":"rect"},
{"hconcat":[
 {"width":46,"height":16,"data":{"values":[]},"mark":"rect"},
 {"width":1,"height":16,"data":{"values":[{"t":"资料来源：Wind，申万宏源研究"}]},"mark":{"type":"text","align":"left","baseline":"middle","fontSize":12,"color":"#1f3c88"},"encoding":{"text":{"field":"t"}}}
]},
{"width":1,"height":12,"data":{"values":[]},"mark":"rect"},
{"hconcat":[
 {"width":207,"height":16,"data":{"values":[]},"mark":"rect"},
 {"width":1,"height":16,"data":{"values":[{"t":"　　原因并不难理解：游戏行业经历 13-17 年爆发期，"}]},"mark":{"type":"text","align":"left","baseline":"middle","fontSize":13.8,"color":"#404040"},"encoding":{"text":{"field":"t"}}},
 {"width":1,"height":16,"data":{"values":[{"t":"18 年以来手游市场整体增速放缓，"}]},"mark":{"type":"text","align":"left","baseline":"middle","fontSize":13.3,"fontWeight":"bold","color":"#404040"},"encoding":{"text":{"field":"t"}}}
]},
{"width":1,"height":7.5,"data":{"values":[]},"mark":"rect"},
{"hconcat":[
 {"width":207,"height":16,"data":{"values":[]},"mark":"rect"},
 {"width":1,"height":16,"data":{"values":[{"t":"叠加游戏版号、未成年保护等政策面影响，游戏公司的增长不确定性凸显。确定性成为市"}]},"mark":{"type":"text","align":"left","baseline":"middle","fontSize":13.2,"fontWeight":"bold","color":"#404040"},"encoding":{"text":{"field":"t"}}}
]},
{"width":1,"height":8.5,"data":{"values":[]},"mark":"rect"},
{"hconcat":[
 {"width":207,"height":16,"data":{"values":[]},"mark":"rect"},
 {"width":1,"height":16,"data":{"values":[{"t":"场关心的核心问题，这既体现在不同游戏公司的市场表现和业绩分化上，也体现为整体估"}]},"mark":{"type":"text","align":"left","baseline":"middle","fontSize":13.2,"fontWeight":"bold","color":"#404040"},"encoding":{"text":{"field":"t"}}}
]},
{"width":1,"height":7.5,"data":{"values":[]},"mark":"rect"},
{"hconcat":[
 {"width":207,"height":16,"data":{"values":[]},"mark":"rect"},
 {"width":1,"height":16,"data":{"values":[{"t":"值中枢的回落。"}]},"mark":{"type":"text","align":"left","baseline":"middle","fontSize":13.3,"fontWeight":"bold","color":"#404040"},"encoding":{"text":{"field":"t"}}},
 {"width":1,"height":16,"data":{"values":[{"t":"回顾网络游戏指数成分公司可见（下图），18 年以来 A 股游戏公司的股价"}]},"mark":{"type":"text","align":"left","baseline":"middle","fontSize":13.8,"color":"#404040"},"encoding":{"text":{"field":"t"}}}
]},
{"width":1,"height":40.5,"data":{"values":[]},"mark":"rect"},
{"hconcat":[
 {"width":55,"height":18,"data":{"values":[]},"mark":"rect","view":{"fill":"#cde6f7","stroke":null}},
 {"width":225,"height":18,"view":{"fill":"#cde6f7","stroke":null},"data":{"values":[{"t":"请务必仔细阅读正文之后的各项信息披露与声明"}]},"mark":{"type":"text","align":"center","baseline":"middle","fontSize":10.5,"color":"#2a4a9a"},"encoding":{"text":{"field":"t"}}},
 {"width":140,"height":18,"data":{"values":[]},"mark":"rect","view":{"fill":"#cde6f7","stroke":null}},
 {"width":80,"height":18,"view":{"fill":"#cde6f7","stroke":null},"data":{"values":[{"t":"第 7 页 共 31 页"}]},"mark":{"type":"text","align":"center","baseline":"middle","fontSize":10.5,"color":"#2a4a9a"},"encoding":{"text":{"field":"t"}}},
 {"width":147,"height":18,"data":{"values":[]},"mark":"rect","view":{"fill":"#cde6f7","stroke":null}},
 {"width":92,"height":18,"view":{"fill":"#cde6f7","stroke":null},"data":{"values":[{"t":"简单金融 成就梦想"}]},"mark":{"type":"text","align":"center","baseline":"middle","fontSize":10.5,"color":"#2a4a9a"},"encoding":{"text":{"field":"t"}}},
 {"width":63,"height":18,"data":{"values":[]},"mark":"rect","view":{"fill":"#cde6f7","stroke":null}}
]}
]
}
